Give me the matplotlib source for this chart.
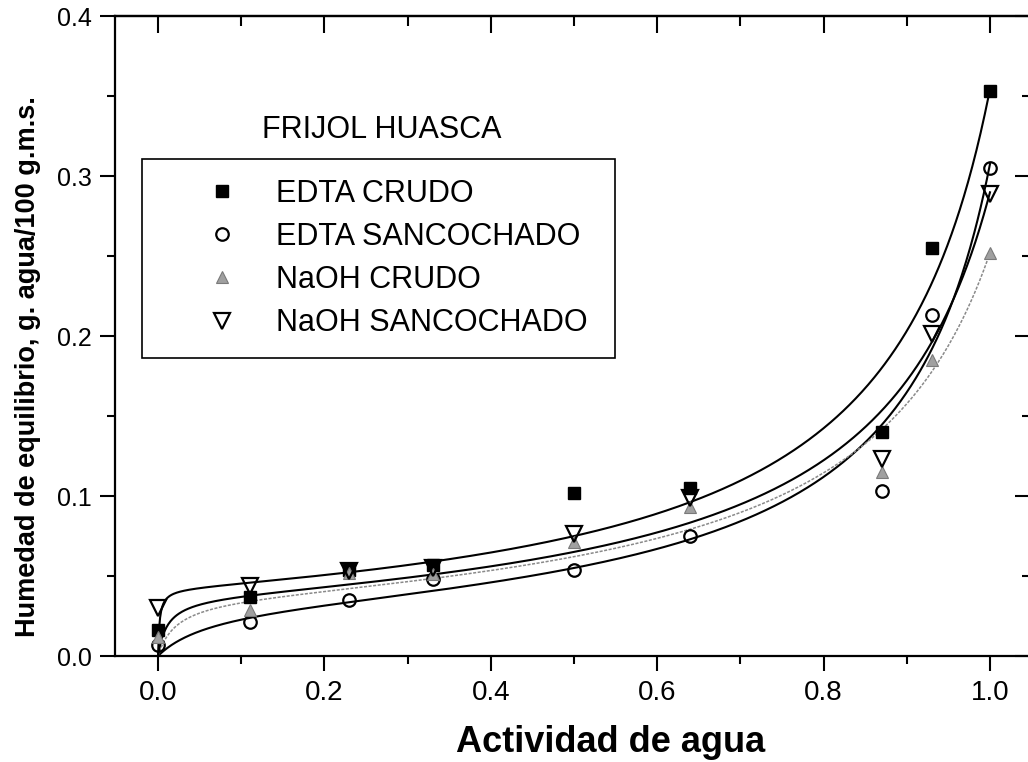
import numpy as np
import matplotlib
matplotlib.use("Agg")
import matplotlib.pyplot as plt
from matplotlib.ticker import MultipleLocator, FixedLocator

plt.rcParams['font.family'] = ['Liberation Sans', 'DejaVu Sans']

# ---- data ----
aw = [0.0, 0.11, 0.23, 0.33, 0.50, 0.64, 0.87, 0.93, 1.0]
edta_crudo = [0.016, 0.037, 0.054, 0.057, 0.102, 0.105, 0.140, 0.255, 0.353]
edta_sanc = [0.007, 0.021, 0.035, 0.048, 0.054, 0.075, 0.103, 0.213, 0.305]
naoh_crudo = [0.012, 0.029, 0.052, 0.051, 0.071, 0.093, 0.115, 0.185, 0.252]
naoh_sanc = [0.030, 0.044, 0.053, 0.055, 0.076, 0.099, 0.123, 0.201, 0.289]

labels = ["EDTA CRUDO", "EDTA SANCOCHADO", "NaOH CRUDO", "NaOH SANCOCHADO"]

# GAB fitted parameters (Xm, C, K) for each series
gab_xm = [0.0420, 0.0325, 0.0364, 0.03715]
gab_c = [600.0, 17.79, 53.52, 102.9]
gab_k = [0.8815, 0.895, 0.856, 0.872]

x_ticks = [0.0, 0.2, 0.4, 0.6, 0.8, 1.0]
x_ticklabels = ["0.0", "0.2", "0.4", "0.6", "0.8", "1.0"]
y_ticks = [0.0, 0.1, 0.2, 0.3, 0.4]
y_ticklabels = ["0.0", "0.1", "0.2", "0.3", "0.4"]

title_text = "FRIJOL HUASCA"
xlabel = "Actividad de agua"
ylabel = "Humedad de equilibrio, g. agua/100 g.m.s."


def gab(a, xm, c, k):
    return xm * c * k * a / ((1 - k * a) * (1 - k * a + c * k * a))


W, H = 1028, 762
fig = plt.figure(figsize=(W / 100, H / 100), dpi=100)
ax = fig.add_axes([115 / W, (H - 656) / H, (1032 - 115) / W, 640 / H])

ax.set_xlim(-0.0517, 1.0505)
ax.set_ylim(0.0, 0.4)

# fitted curves
aa = np.linspace(0.0, 1.0, 800)
curve_styles = [
    dict(color='black', lw=1.5, ls='-'),
    dict(color='black', lw=1.5, ls='-'),
    dict(color='#8a8a8a', lw=1.1, ls=(0, (2, 1))),
    dict(color='black', lw=1.5, ls='-'),
]
for i in range(4):
    ax.plot(aa, gab(aa, gab_xm[i], gab_c[i], gab_k[i]), zorder=2, **curve_styles[i])

# data markers
ax.plot(aw, edta_crudo, ls='none', marker='s', ms=8.5, mfc='black', mec='black',
        label=labels[0], zorder=3)
ax.plot(aw, edta_sanc, ls='none', marker='o', ms=9.0, mfc='none', mec='black',
        mew=1.6, label=labels[1], zorder=3)
ax.plot(aw, naoh_crudo, ls='none', marker='^', ms=8.5, mfc='#a0a0a0', mec='#7a7a7a',
        mew=0.8, label=labels[2], zorder=3)
ax.plot(aw, naoh_sanc, ls='none', marker='v', ms=11.0, mfc='none', mec='black',
        mew=1.6, label=labels[3], zorder=3)

# ticks
ax.xaxis.set_major_locator(FixedLocator(x_ticks))
ax.set_xticklabels(x_ticklabels)
ax.xaxis.set_minor_locator(MultipleLocator(0.1))
ax.yaxis.set_major_locator(FixedLocator(y_ticks))
ax.set_yticklabels(y_ticklabels)
ax.yaxis.set_minor_locator(MultipleLocator(0.05))
ax.tick_params(which='major', direction='out', length=11, width=1.5, pad=6)
ax.tick_params(which='minor', direction='out', length=6, width=1.5)
ax.tick_params(axis='x', labelsize=20)
ax.tick_params(axis='y', labelsize=18)

for s in ax.spines.values():
    s.set_linewidth(1.6)

axt = ax.secondary_xaxis('top')
axt.xaxis.set_major_locator(FixedLocator(x_ticks))
axt.xaxis.set_minor_locator(MultipleLocator(0.1))
axt.tick_params(which='major', direction='in', length=12, width=1.5, labeltop=False)
axt.tick_params(which='minor', direction='in', length=7, width=1.5)
axt.spines['top'].set_linewidth(1.6)

axr = ax.secondary_yaxis('right')
axr.yaxis.set_major_locator(FixedLocator(y_ticks))
axr.yaxis.set_minor_locator(MultipleLocator(0.05))
axr.tick_params(which='major', direction='in', length=12, width=1.5, labelright=False)
axr.tick_params(which='minor', direction='in', length=7, width=1.5)

ax.set_xlabel(xlabel, fontsize=26, fontweight='bold')
ax.xaxis.set_label_coords(0.540, -0.108)
ax.set_ylabel(ylabel, fontsize=19.5, fontweight='bold')
ax.yaxis.set_label_coords(-0.095, 0.4516)
ax.yaxis.label.set_va('center')

ax.text(0.160, 0.822, title_text, transform=ax.transAxes, fontsize=22,
        ha='left', va='center')

leg = ax.legend(loc='upper left', bbox_to_anchor=(0.0294, 0.4656, 0.5158, 0.311),
                mode='expand', borderaxespad=0, fontsize=22, frameon=True,
                fancybox=False, edgecolor='black', framealpha=1,
                handlelength=3.92, handletextpad=-0.19, borderpad=0.65,
                labelspacing=0.43, numpoints=1)
leg.get_frame().set_linewidth(1.2)

fig.savefig("out.png", dpi=100)
